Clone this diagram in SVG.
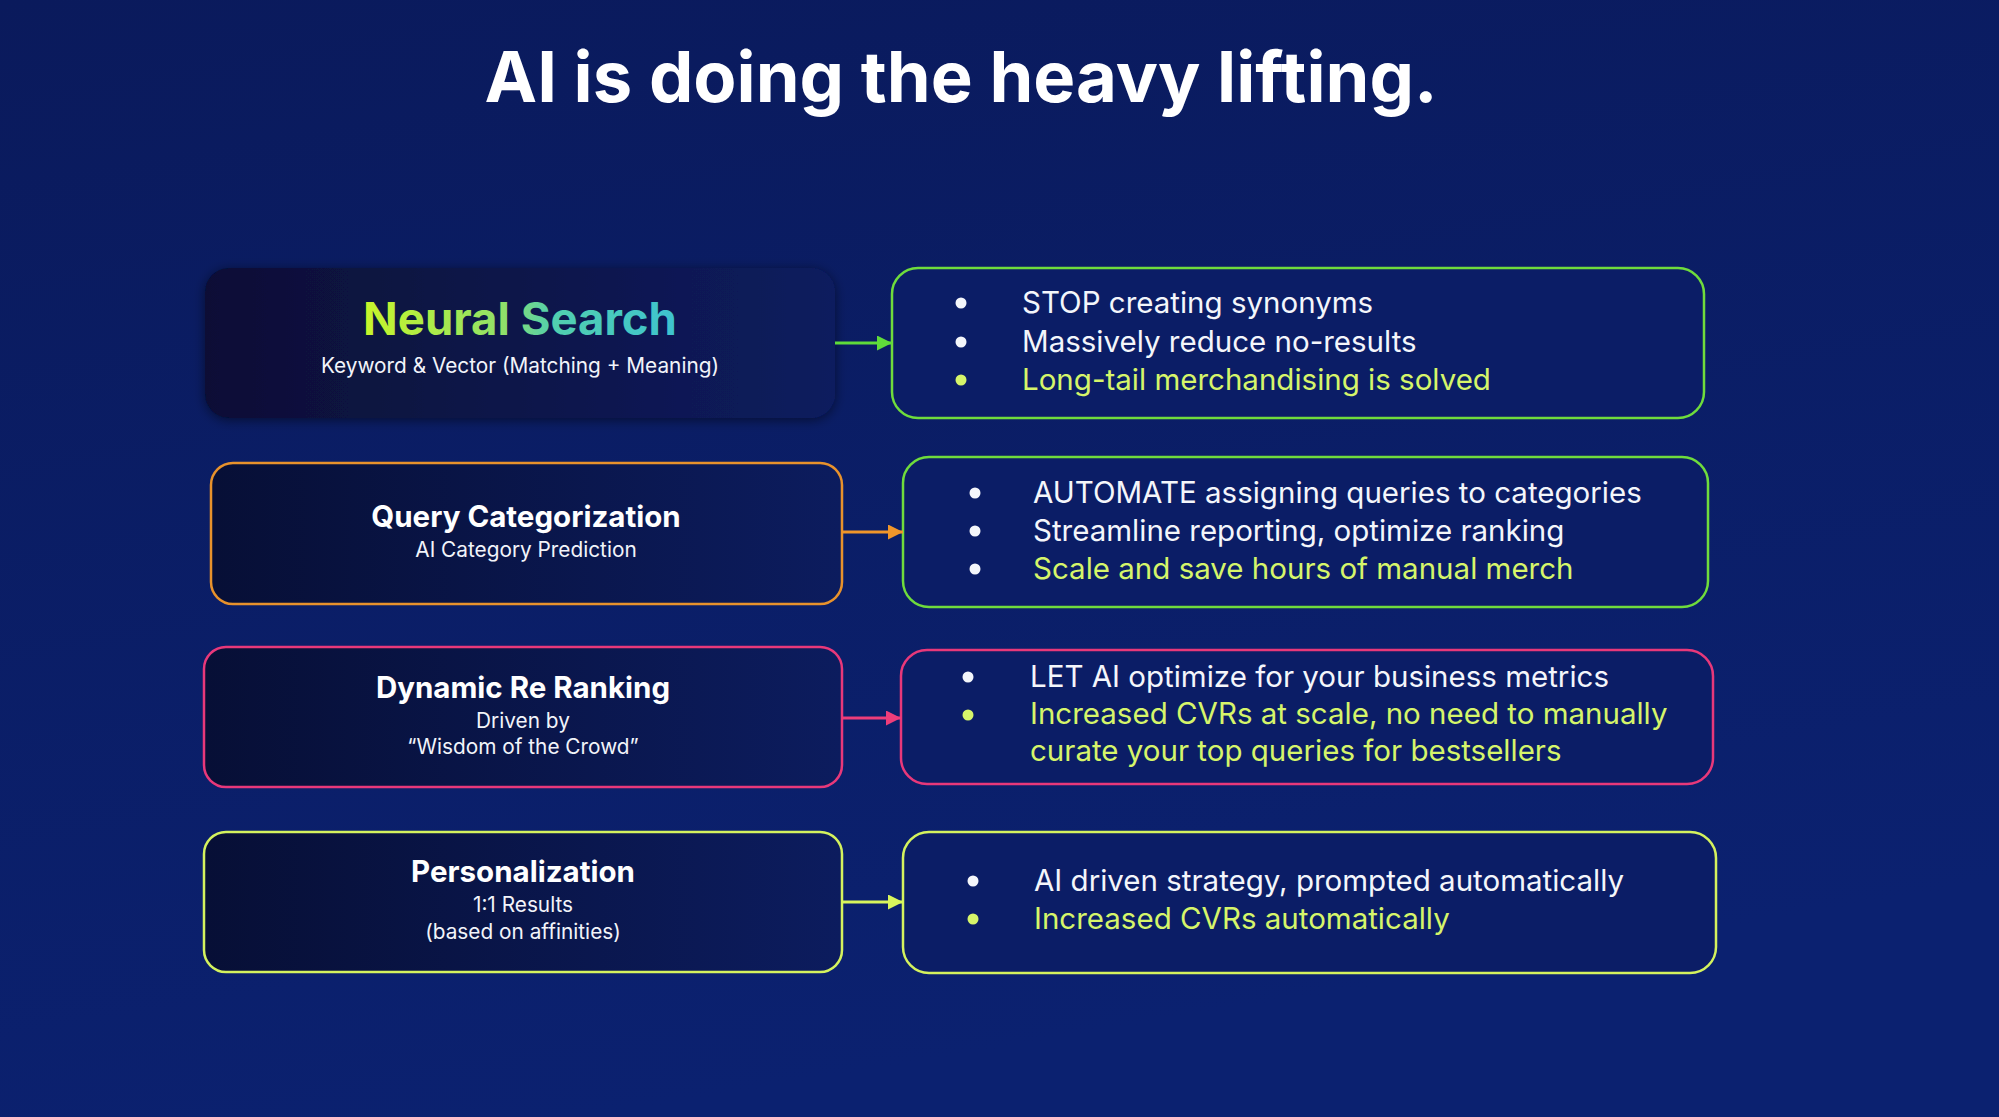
<svg xmlns="http://www.w3.org/2000/svg" width="1999" height="1117" viewBox="0 0 1999 1117">
<defs>
<linearGradient id="bg" x1="0" y1="0" x2="0.3" y2="1">
<stop offset="0" stop-color="#0a1a5c"/>
<stop offset="1" stop-color="#0b2170"/>
</linearGradient>
<linearGradient id="leftfill" x1="0" y1="0" x2="1" y2="0">
<stop offset="0" stop-color="#070f36"/>
<stop offset="1" stop-color="#0c1c5e"/>
</linearGradient>
<linearGradient id="nsText" x1="0" y1="0" x2="1" y2="0">
<stop offset="0" stop-color="#c8f52a"/>
<stop offset="0.45" stop-color="#8fe06a"/>
<stop offset="0.6" stop-color="#52cfae"/>
<stop offset="1" stop-color="#3ec3d0"/>
</linearGradient>
<filter id="glow" x="-10%" y="-20%" width="120%" height="140%">
<feGaussianBlur in="SourceAlpha" stdDeviation="6"/>
<feOffset dx="0" dy="2"/>
<feComponentTransfer><feFuncA type="linear" slope="0.5"/></feComponentTransfer>
<feMerge><feMergeNode/><feMergeNode in="SourceGraphic"/></feMerge>
</filter>
<marker id="mGreen" viewBox="0 0 10 10" refX="10" refY="5" markerWidth="5" markerHeight="5" orient="auto" markerUnits="strokeWidth"><path d="M0,0 L10,5 L0,10 Z" fill="#5fdc3a"/></marker>
<marker id="mOrange" viewBox="0 0 10 10" refX="10" refY="5" markerWidth="5" markerHeight="5" orient="auto" markerUnits="strokeWidth"><path d="M0,0 L10,5 L0,10 Z" fill="#f0962a"/></marker>
<marker id="mPink" viewBox="0 0 10 10" refX="10" refY="5" markerWidth="5" markerHeight="5" orient="auto" markerUnits="strokeWidth"><path d="M0,0 L10,5 L0,10 Z" fill="#ee3d7a"/></marker>
<marker id="mLime" viewBox="0 0 10 10" refX="10" refY="5" markerWidth="5" markerHeight="5" orient="auto" markerUnits="strokeWidth"><path d="M0,0 L10,5 L0,10 Z" fill="#d8f55c"/></marker>
</defs>
<style>
text { font-family: Inter, "Liberation Sans", sans-serif; }
.title { font-size: 70.5px; font-weight: 700; fill: #ffffff; }
.lbox { fill: url(#leftfill); stroke-width: 2.5; }
.rbox { fill: #0b1d66; stroke-width: 2.5; }
.ltitle { font-size: 29.5px; font-weight: 700; fill: #ffffff; text-anchor: middle; }
.lsub { font-size: 20.8px; font-weight: 400; fill: #f2f4fa; text-anchor: middle; }
.item { font-size: 29.5px; font-weight: 400; fill: #f4f6fb; }
.hl { fill: #d6f56a; }
.dotw { fill: #f4f6fb; }
.doth { fill: #d6f56a; }
.conn { fill: none; stroke-width: 3; }
</style>
<rect x="0" y="0" width="1999" height="1117" fill="url(#bg)"/>
<text class="title" x="961" y="102" text-anchor="middle">AI is doing the heavy lifting.</text>

<g id="node-neural-search">
<rect x="205" y="268" width="630" height="150" rx="24" fill="url(#leftfill)" filter="url(#glow)"/>
<text x="520" y="335" text-anchor="middle" font-size="45.5" font-weight="700" fill="url(#nsText)">Neural Search</text>
<text class="lsub" x="520" y="373">Keyword &amp; Vector (Matching + Meaning)</text>
</g>

<g id="node-neural-search-benefits">
<rect class="rbox" x="892" y="268" width="812" height="150" rx="26" stroke="#6fdc3c"/>
<circle class="dotw" cx="961" cy="303" r="5.5"/>
<circle class="dotw" cx="961" cy="342" r="5.5"/>
<circle class="doth" cx="961" cy="380" r="5.5"/>
<text class="item" x="1022" y="313">STOP creating synonyms</text>
<text class="item" x="1022" y="352">Massively reduce no-results</text>
<text class="item hl" x="1022" y="390">Long-tail merchandising is solved</text>
</g>

<g id="node-query-categorization">
<rect class="lbox" x="211" y="463" width="631" height="141" rx="22" stroke="#e8922c"/>
<text class="ltitle" x="526" y="527">Query Categorization</text>
<text class="lsub" x="526" y="557">AI Category Prediction</text>
</g>

<g id="node-query-categorization-benefits">
<rect class="rbox" x="903" y="457" width="805" height="150" rx="26" stroke="#6fdc3c"/>
<circle class="dotw" cx="975" cy="493" r="5.5"/>
<circle class="dotw" cx="975" cy="531" r="5.5"/>
<circle class="dotw" cx="975" cy="569" r="5.5"/>
<text class="item" x="1033" y="503">AUTOMATE assigning queries to categories</text>
<text class="item" x="1033" y="541">Streamline reporting, optimize ranking</text>
<text class="item hl" x="1033" y="579">Scale and save hours of manual merch</text>
</g>

<g id="node-dynamic-reranking">
<rect class="lbox" x="204" y="647" width="638" height="140" rx="22" stroke="#e8387a"/>
<text class="ltitle" x="523" y="698">Dynamic Re Ranking</text>
<text class="lsub" x="523" y="728">Driven by</text>
<text class="lsub" x="523" y="754">“Wisdom of the Crowd”</text>
</g>

<g id="node-dynamic-reranking-benefits">
<rect class="rbox" x="901" y="650" width="812" height="134" rx="26" stroke="#e8387a"/>
<circle class="dotw" cx="968" cy="677" r="5.5"/>
<circle class="doth" cx="968" cy="715" r="5.5"/>
<text class="item" x="1030" y="687">LET AI optimize for your business metrics</text>
<text class="item hl" x="1030" y="724">Increased CVRs at scale, no need to manually</text>
<text class="item hl" x="1030" y="761">curate your top queries for bestsellers</text>
</g>

<g id="node-personalization">
<rect class="lbox" x="204" y="832" width="638" height="140" rx="22" stroke="#d4f25e"/>
<text class="ltitle" x="523" y="882">Personalization</text>
<text class="lsub" x="523" y="912">1:1 Results</text>
<text class="lsub" x="523" y="939">(based on affinities)</text>
</g>

<g id="node-personalization-benefits">
<rect class="rbox" x="903" y="832" width="813" height="141" rx="26" stroke="#d4f25e"/>
<circle class="dotw" cx="973" cy="881" r="5.5"/>
<circle class="doth" cx="973" cy="919" r="5.5"/>
<text class="item" x="1034" y="891">AI driven strategy, prompted automatically</text>
<text class="item hl" x="1034" y="929">Increased CVRs automatically</text>
</g>

<g id="connectors">
<line class="conn" x1="835" y1="343" x2="892" y2="343" stroke="#5fdc3a" marker-end="url(#mGreen)"/>
<line class="conn" x1="842" y1="532" x2="903" y2="532" stroke="#f0962a" marker-end="url(#mOrange)"/>
<line class="conn" x1="842" y1="718" x2="901" y2="718" stroke="#ee3d7a" marker-end="url(#mPink)"/>
<line class="conn" x1="842" y1="902" x2="903" y2="902" stroke="#d8f55c" marker-end="url(#mLime)"/>
</g>
</svg>
